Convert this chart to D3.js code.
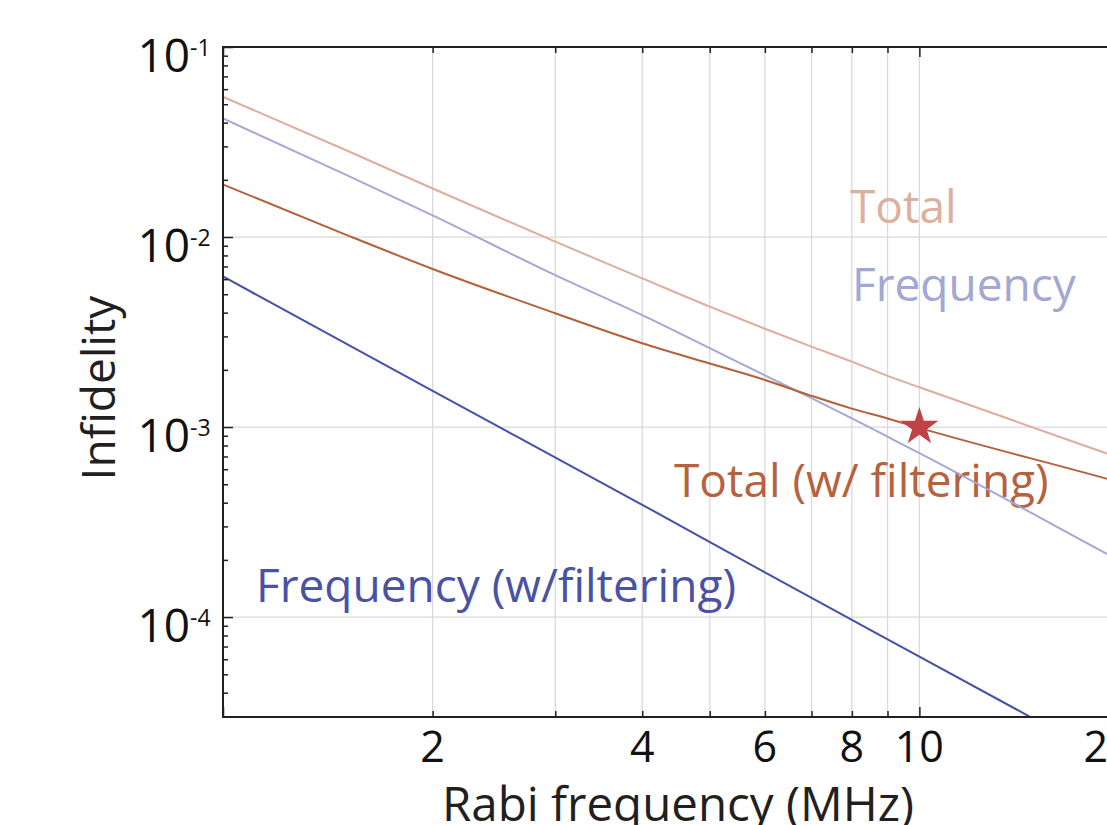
<!DOCTYPE html>
<html>
<head>
<meta charset="utf-8">
<script src="https://cdn.jsdelivr.net/npm/d3@7"></script>
<style>
  body { margin: 0; background: #fff; }
  svg { display: block; font-family: "Open Sans", sans-serif; }
</style>
</head>
<body>
<svg id="chart" width="1107" height="825"></svg>
<script>
// Rabi frequency (MHz) sample points
const rabi = [1, 1.5, 2, 3, 4, 5, 6, 7, 8, 9, 10, 18.5, 20];
const totalErr = [0.0547, 0.0287, 0.0180, 0.00945, 0.00606, 0.00430, 0.00329, 0.00265, 0.00221, 0.00186, 0.00162, 0.00073, 0.00066];
const freqErr = [0.0421, 0.0213, 0.0130, 0.0063, 0.00388, 0.00260, 0.00187, 0.00142, 0.00111, 0.00089, 0.00073, 0.000217, 0.000186];
const totalFilt = [0.0189, 0.0103, 0.00679, 0.00397, 0.00276, 0.00216, 0.00177, 0.00146, 0.00125, 0.00111, 0.00099, 0.000537, 0.000496];
// frequency (w/ filtering) is a straight line on log-log
const freqFiltX = [1, 2, 4, 6, 10, 15];
const freqFilt = [0.0062, 0.00155, 0.00039, 0.000172, 0.000062, 0.0000276];
// operating point (star)
const starX = 10, starY = 0.001;

const xMajor = [2, 4, 6, 8, 10, 20];
const xMinor = [3, 5, 7, 9];
const yDecades = [1e-4, 1e-3, 1e-2, 1e-1];
const yExp = ["-4", "-3", "-2", "-1"];

const plotL = 223, plotT = 47, plotB = 717, plotR = 1129;

const svg = d3.select("#chart");
const x = d3.scaleLog().domain([1, 20]).range([plotL, plotR]);
const y = d3.scaleLog().domain([2.98e-5, 0.1]).range([plotB, plotT]);

svg.append("defs").append("clipPath").attr("id", "plot")
  .append("rect").attr("x", plotL).attr("y", plotT)
  .attr("width", plotR - plotL).attr("height", plotB - plotT);

// gridlines
svg.append("g").selectAll("line")
  .data([2, 3, 4, 5, 6, 7, 8, 9, 10])
  .join("line")
  .attr("x1", d => x(d)).attr("x2", d => x(d))
  .attr("y1", plotT).attr("y2", plotB)
  .attr("stroke", "#dadada").attr("stroke-width", 1.3);
svg.append("g").selectAll("line")
  .data([1e-4, 1e-3, 1e-2])
  .join("line")
  .attr("x1", plotL).attr("x2", plotR)
  .attr("y1", d => y(d)).attr("y2", d => y(d))
  .attr("stroke", "#dadada").attr("stroke-width", 1.3);

// annotations (lines are drawn over them)
const notes = [
  {t: "Total", x: 850, y: 223, c: "#dbb09f"},
  {t: "Frequency", x: 852, y: 301, c: "#a3a7d3"},
  {t: "Total (w/ filtering)", x: 674, y: 497, c: "#b5623f"},
  {t: "Frequency (w/filtering)", x: 256, y: 602, c: "#4a52a3"}
];
svg.append("g").selectAll("text")
  .data(notes)
  .join("text")
  .attr("x", d => d.x).attr("y", d => d.y)
  .attr("fill", d => d.c)
  .style("font-size", "46px")
  .text(d => d.t);

// curves
let line = d3.line()
  .x(d => x(d[0]))
  .y(d => y(d[1]))
  .curve(d3.curveMonotoneX);

let series = [
  {xs: rabi, ys: totalErr, c: "#dcae9b"},
  {xs: rabi, ys: freqErr, c: "#a4a8d6"},
  {xs: rabi, ys: totalFilt, c: "#b5603a"},
  {xs: freqFiltX, ys: freqFilt, c: "#4650a6"}
];

svg.append("g").attr("clip-path", "url(#plot)")
  .selectAll("path")
  .data(series)
  .join("path")
  .attr("d", d => line(d.xs.map((v, i) => [v, d.ys[i]])))
  .attr("fill", "none")
  .attr("stroke", d => d.c)
  .attr("stroke-width", 2);

// star marker
svg.append("path")
  .attr("d", d3.symbol(d3.symbolStar, 450)())
  .attr("transform", `translate(${x(starX)},${y(starY)})`)
  .attr("fill", "#bd4346");

// axes ticks (pointing inward)
function ticks(axis, vals, size, tx, ty) {
  let g = svg.append("g")
    .attr("transform", `translate(${tx},${ty})`)
    .call(axis.tickValues(vals).tickSize(size).tickFormat(""));
  g.select(".domain").remove();
  g.selectAll("line").attr("stroke", "#231f20").attr("stroke-width", 1.5);
}
let xSmall = xMajor.concat(xMinor).filter(d => d !== 10 && d !== 20);
ticks(d3.axisBottom(x), [1, 10, 20], -10, 0, plotB);
ticks(d3.axisBottom(x), xSmall, -6, 0, plotB);
ticks(d3.axisTop(x), [1, 10, 20], -10, 0, plotT);
ticks(d3.axisTop(x), xSmall, -6, 0, plotT);
ticks(d3.axisLeft(y), yDecades, -10, plotL, 0);
ticks(d3.axisLeft(y), y.ticks().filter(d => !yDecades.includes(d)), -5, plotL, 0);

// frame
svg.append("path")
  .attr("d", `M${plotR},${plotT}H${plotL}V${plotB}H${plotR}`)
  .attr("fill", "none")
  .attr("stroke", "#231f20")
  .attr("stroke-width", 2);

// x tick labels
svg.append("g").selectAll("text")
  .data(xMajor)
  .join("text")
  .attr("x", d => d === 20 ? x(d) - 21 : x(d))
  .attr("y", 762)
  .attr("text-anchor", "middle")
  .attr("fill", "#111")
  .style("font-size", "43px")
  .text(d => d);

// y tick labels 10^n
let yl = svg.append("g").selectAll("g")
  .data(yDecades)
  .join("g");
yl.append("text")
  .attr("x", 190)
  .attr("y", d => y(d) + 25)
  .attr("text-anchor", "end")
  .attr("fill", "#111")
  .style("font-size", "46px")
  .text("10");
yl.append("text")
  .attr("x", 190)
  .attr("y", d => y(d) + 9)
  .attr("fill", "#111")
  .style("font-size", "23px")
  .text((d, i) => yExp[i]);

// axis titles
svg.append("text")
  .attr("x", 678)
  .attr("y", 821)
  .attr("text-anchor", "middle")
  .attr("fill", "#231f20")
  .style("font-size", "47.5px")
  .text("Rabi frequency (MHz)");

svg.append("text")
  .attr("transform", "translate(115,388) rotate(-90)")
  .attr("text-anchor", "middle")
  .attr("fill", "#231f20")
  .style("font-size", "46px")
  .text("Infidelity");
</script>
</body>
</html>
